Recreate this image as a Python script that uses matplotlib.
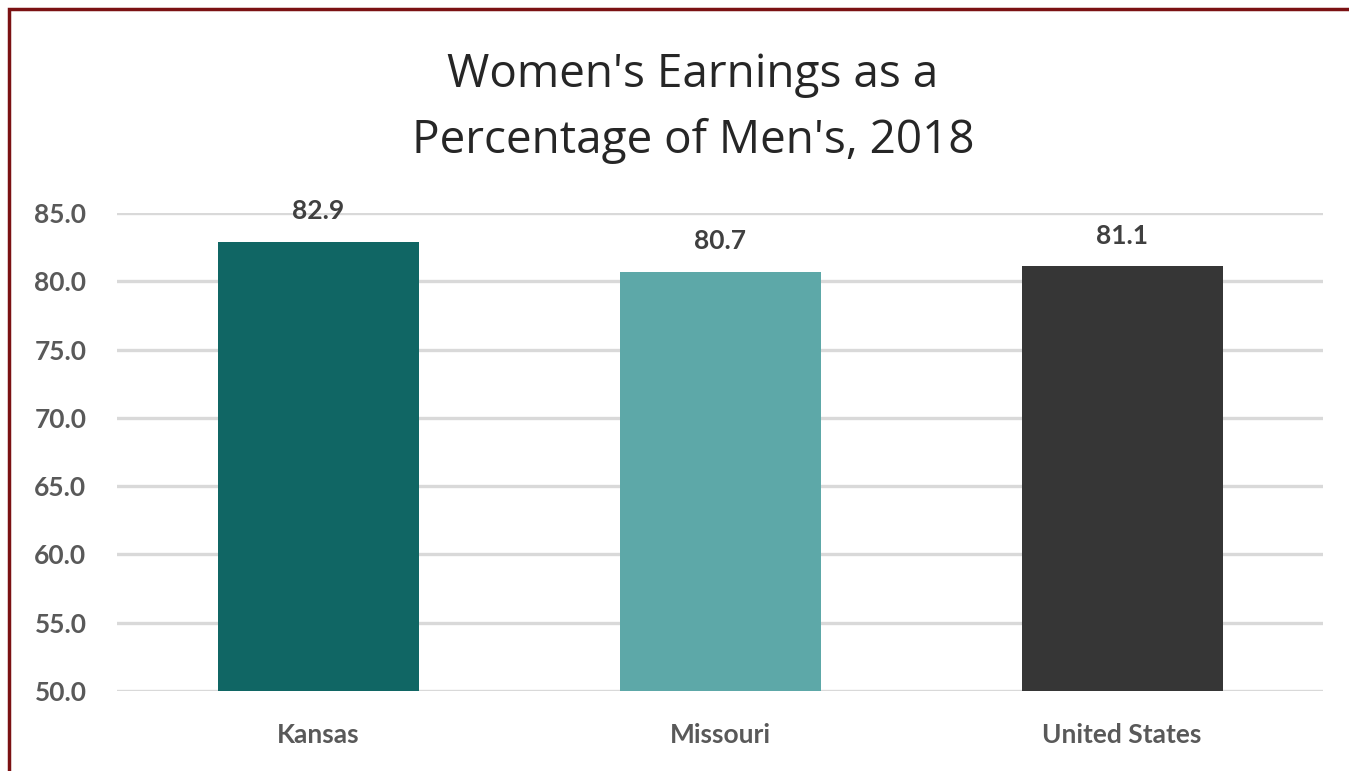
import matplotlib
matplotlib.use("Agg")
import matplotlib.pyplot as plt
from matplotlib.patches import Rectangle

categories = ["Kansas", "Missouri", "United States"]
values = [82.9, 80.7, 81.1]
bar_colors = ["#106664", "#5DA8A8", "#363636"]
yticks = [50, 55, 60, 65, 70, 75, 80, 85]
title = "Women's Earnings as a\nPercentage of Men's, 2018"

plt.rcParams['font.family'] = ['Lato', 'DejaVu Sans']

fig = plt.figure(figsize=(13.49, 7.71), dpi=100)
ax = fig.add_axes([117/1349, 1-691/771, (1323-117)/1349, (691-213)/771])

x = list(range(len(categories)))
bars = ax.bar(x, [v - 50 for v in values], bottom=50, width=0.5, color=bar_colors, zorder=3)

ax.set_xlim(-0.5, 2.5)
ax.set_ylim(50, 85)
ax.set_yticks(yticks)
ax.set_yticklabels([f"{t:.1f}" for t in yticks], fontsize=19, fontweight='bold', color='#595959')
ax.set_xticks(x)
ax.set_xticklabels(categories, fontsize=19, fontweight='bold', color='#595959')
ax.tick_params(axis='both', length=0)
ax.tick_params(axis='y', pad=22)
ax.tick_params(axis='x', pad=23)
ax.grid(axis='y', color='#D9D9D9', linewidth=2.4, zorder=0)
ax.set_axisbelow(True)
for s in ax.spines.values():
    s.set_visible(False)

for xi, v in zip(x, values):
    ax.annotate(f"{v:.1f}", (xi, v), xytext=(0, 22), textcoords='offset points',
                ha='center', va='center', fontsize=19, fontweight='bold', color='#404040')

fig.text(693/1349, 1-108/771, title, ha='center', va='center', fontsize=33,
         color='#262626', linespacing=1.55, family=['Open Sans', 'DejaVu Sans'])

fig.patches.append(Rectangle((9/1349, -0.1), 1.2, 1.1 - 9/771, transform=fig.transFigure,
                             fill=False, edgecolor='#7B1113', linewidth=2.5))

fig.savefig("out.png", dpi=100)
